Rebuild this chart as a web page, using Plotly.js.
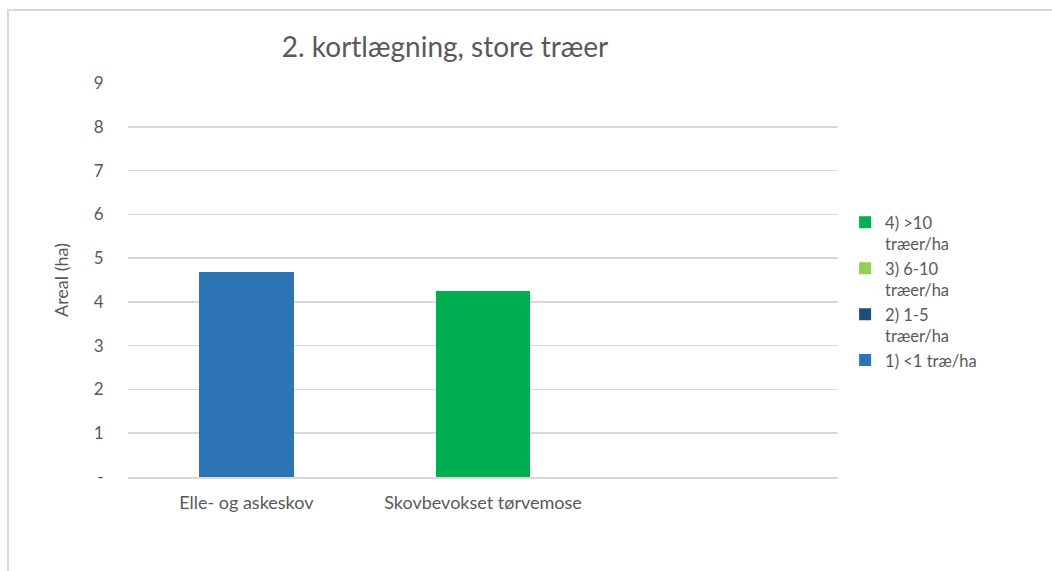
<!DOCTYPE html>
<html>
<head>
<meta charset="utf-8">
<script src="https://cdn.plot.ly/plotly-3.0.1.min.js"></script>
<style>
  html, body { margin: 0; padding: 0; background: #ffffff; }
  #wrap { position: relative; width: 1052px; height: 571px; overflow: hidden; }
  #frame { position: absolute; left: 7px; top: 9px; width: 1100px; height: 700px; border: 2px solid #d9d9d9; box-sizing: border-box; }
  #chart { position: absolute; left: 0; top: 0; width: 1052px; height: 571px; }
</style>
</head>
<body>
<div id="wrap">
  <div id="frame"></div>
  <div id="chart"></div>
</div>
<script>
const categories = ["Elle- og askeskov", "Skovbevokset tørvemose"];
const seriesNames = ["1) <1 træ/ha", "2) 1-5<br>træer/ha", "3) 6-10<br>træer/ha", "4) >10<br>træer/ha"];
const s1 = [4.68, 0];
const s2 = [0, 0];
const s3 = [0, 0];
const s4 = [0, 4.25];
const seriesColors = ["#2E75B6", "#1F4E79", "#92D050", "#00B050"];
const yTickVals = [0, 1, 2, 3, 4, 5, 6, 7, 8, 9];
const yTickText = ["-", "1", "2", "3", "4", "5", "6", "7", "8", "9"];

const FONT = "Lato, 'Open Sans', sans-serif";
const seriesValues = [s1, s2, s3, s4];
const traces = seriesValues.map((v, i) => ({
  type: "bar",
  name: seriesNames[i],
  x: categories,
  y: v,
  marker: { color: seriesColors[i] },
  hoverinfo: "skip"
}));

const layout = {
  width: 1052,
  height: 571,
  paper_bgcolor: "rgba(0,0,0,0)",
  plot_bgcolor: "rgba(0,0,0,0)",
  barmode: "stack",
  bargap: 0.6,
  margin: { l: 128, r: 214, t: 83, b: 94 },
  font: { family: FONT, color: "#595959", size: 17 },
  title: {
    text: "2. kortlægning, store træer",
    font: { family: FONT, size: 28, color: "#595959" },
    x: 445 / 1052, xref: "container", xanchor: "center",
    y: 1 - 47 / 571, yref: "container", yanchor: "middle"
  },
  xaxis: {
    type: "category",
    range: [-0.5, 2.5],
    showgrid: false,
    showline: true,
    linecolor: "#d9d9d9",
    linewidth: 1.5,
    ticks: "outside",
    ticklen: 9,
    tickcolor: "rgba(0,0,0,0)",
    tickfont: { family: FONT, size: 18, color: "#595959" },
    fixedrange: true
  },
  yaxis: {
    range: [0, 9],
    tickvals: yTickVals,
    ticktext: yTickText,
    showgrid: true,
    gridcolor: "#d9d9d9",
    gridwidth: 1.5,
    zeroline: false,
    showline: false,
    ticks: "outside",
    ticklen: 20,
    tickcolor: "rgba(0,0,0,0)",
    tickfont: { family: FONT, size: 17, color: "#595959" },
    title: { text: "Areal (ha)", font: { family: FONT, size: 18, color: "#595959" }, standoff: 20 },
    fixedrange: true
  },
  legend: {
    x: 1.01, xref: "paper", xanchor: "left",
    y: 0.69, yanchor: "top",
    valign: "top",
    font: { family: FONT, size: 16.5, color: "#595959" },
    tracegroupgap: 0,
    itemwidth: 30,
    bgcolor: "rgba(0,0,0,0)"
  },
  showlegend: true
};

Plotly.newPlot("chart", traces, layout, { displayModeBar: false, staticPlot: true });
</script>
</body>
</html>
